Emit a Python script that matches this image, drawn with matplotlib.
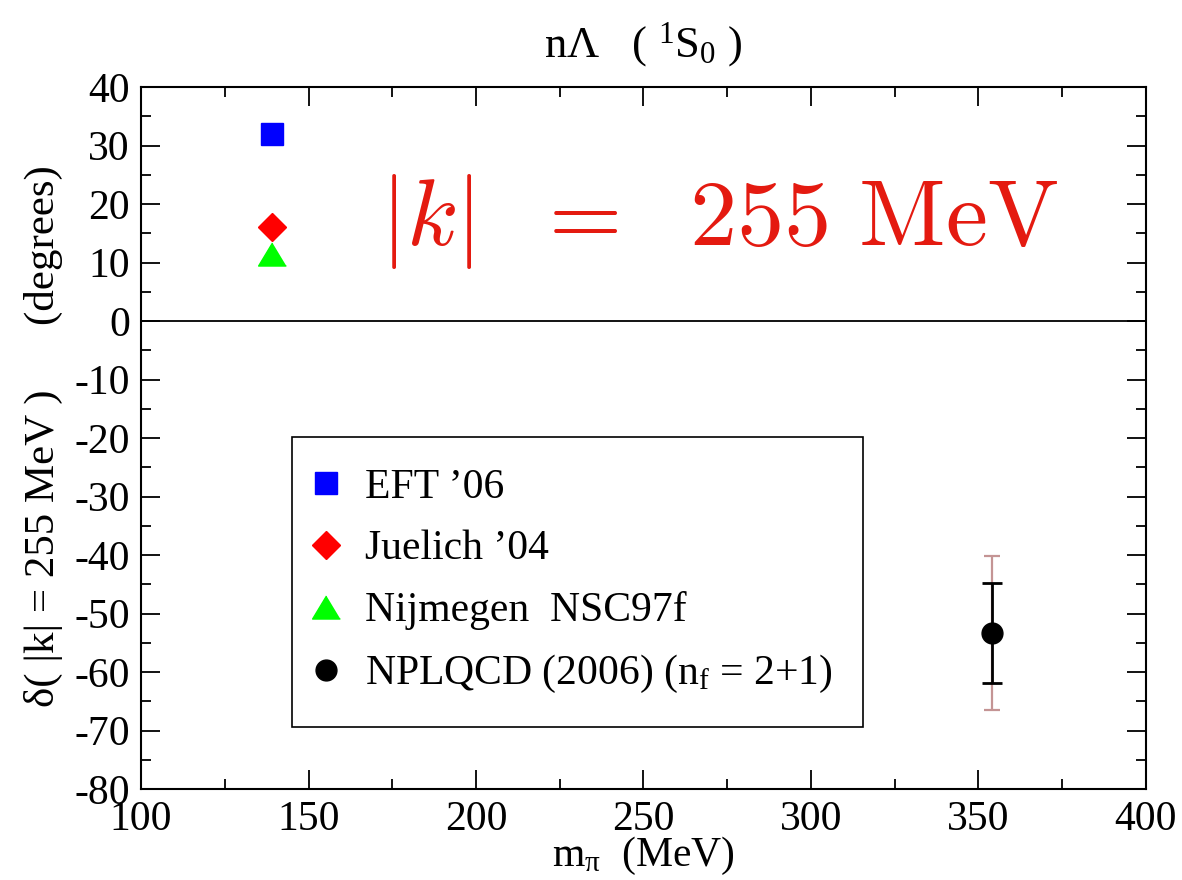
import numpy as np
import matplotlib
matplotlib.use("Agg")
from matplotlib import pyplot as plt

plt.rcParams['font.family'] = ['Liberation Serif', 'DejaVu Serif']
plt.rcParams['mathtext.fontset'] = 'custom'
plt.rcParams['mathtext.rm'] = 'Liberation Serif'
plt.rcParams['mathtext.it'] = 'Liberation Serif:italic'
plt.rcParams['mathtext.bf'] = 'Liberation Serif:bold'
plt.rcParams['axes.unicode_minus'] = False

# phase shifts at |k| = 255 MeV
model_labels = ["EFT \u201906", "Juelich \u201904", "Nijmegen  NSC97f"]
model_mpi = [139.0, 139.0, 139.0]
model_delta = [32.0, 16.0, 11.5]

lqcd_label = r"NPLQCD (2006) (n$_\mathrm{f}$ = 2+1)"
lqcd_mpi = [354.0]
lqcd_delta = [-53.3]
lqcd_stat = [8.5]
lqcd_total = [13.2]

fig = plt.figure(figsize=(11.82, 8.8), dpi=100)
ax = fig.add_axes([0.1193, 0.1034, 0.8502, 0.7977])

ax.axhline(0.0, color='k', lw=1.3, zorder=1)

ax.plot(model_mpi[0], model_delta[0], ls='none', marker='s', ms=16,
        color='#0000ff', label=model_labels[0])
ax.plot(model_mpi[1], model_delta[1], ls='none', marker='D', ms=14,
        color='#ff0000', label=model_labels[1])
tri = [(0, 0.83), (-1, -0.83), (1, -0.83)]
ax.plot(model_mpi[2], model_delta[2], ls='none', marker=tri, ms=20,
        color='#00ff00', label=model_labels[2])

# systematic + statistical, then statistical only
ax.errorbar(lqcd_mpi, lqcd_delta, yerr=lqcd_total, fmt='none',
            ecolor='#c49494', elinewidth=1.6, capsize=6.1, capthick=1.6)
ax.errorbar(lqcd_mpi, lqcd_delta, yerr=lqcd_stat, fmt='none',
            ecolor='k', elinewidth=2.0, capsize=7.5, capthick=2.0)
ax.plot(lqcd_mpi, lqcd_delta, ls='none', marker='o', ms=15, color='k',
        label=lqcd_label)

ax.set_xlim(100, 400)
ax.set_ylim(-80, 40)
ax.set_xticks(np.arange(100, 401, 50))
ax.set_xticks(np.arange(125, 400, 50), minor=True)
ax.set_yticks(np.arange(-80, 41, 10))
ax.set_yticks(np.arange(-75, 40, 10), minor=True)
ax.tick_params(which='both', direction='in', top=True, right=True,
               width=1.3, labelsize=30)
ax.tick_params(which='major', length=14, pad=8)
ax.tick_params(which='minor', length=7)
for s in ax.spines.values():
    s.set_linewidth(1.5)

ax.set_xlabel("m$_\\mathrm{\u03c0}$  (MeV)", fontsize=30)
ax.xaxis.set_label_coords(0.5, -0.065)
ax.set_ylabel("\u03b4( |k| = 255 MeV )      (degrees)", fontsize=31)
ax.yaxis.set_label_coords(-0.078, 0.503)

ax.text(0.5, 1.06, r"n$\Lambda$   ( $^1$S$_0$ )", transform=ax.transAxes,
        ha='center', va='center', fontsize=32)

ax.text(0.575, 0.775, r"$|k|\ \;=\ \;255\ \mathrm{MeV}$", transform=ax.transAxes,
        ha='center', va='baseline', fontsize=68, color='#e41a10',
        math_fontfamily='cm')

leg = ax.legend(loc='upper left', bbox_to_anchor=(0.150, 0.501), fontsize=30,
                frameon=True, fancybox=False, edgecolor='k', framealpha=1,
                borderpad=0.75, handlelength=0.15, handletextpad=0.85,
                labelspacing=0.55, borderaxespad=0, numpoints=1)
leg.get_frame().set_linewidth(1.2)

fig.savefig("out.png", dpi=100)
